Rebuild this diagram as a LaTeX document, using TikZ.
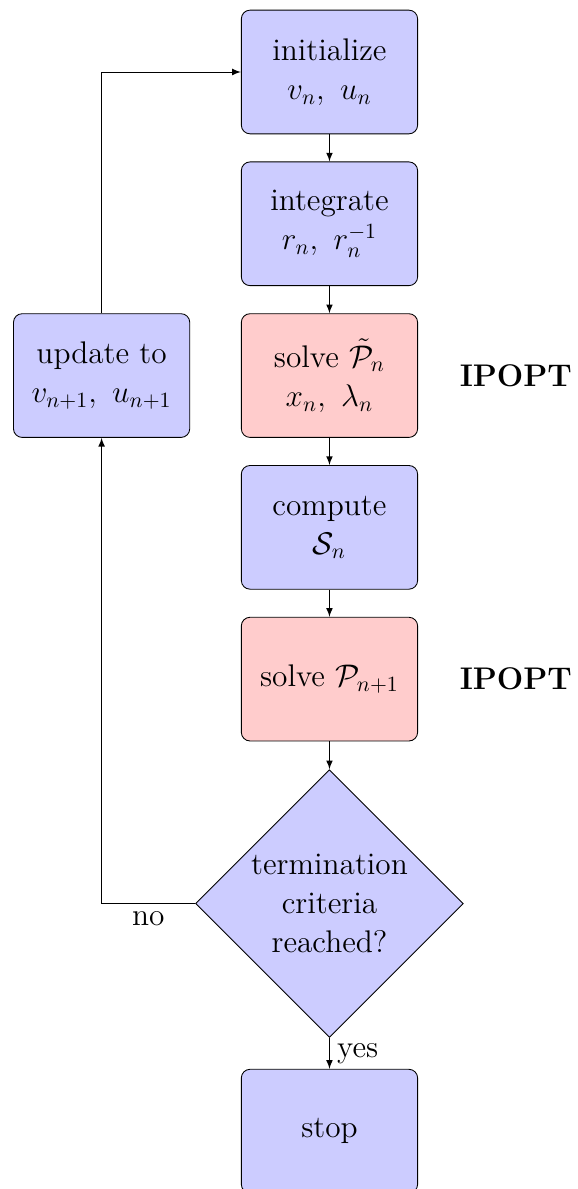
\documentclass[tikz,border=0pt]{standalone}
\usetikzlibrary{positioning,shapes.geometric}
\begin{document}
\begin{tikzpicture}[->,>=latex,node distance=0.44cm,font=\Large,
    block/.style={draw,-,rounded corners,fill=blue!20,align=center,
        minimum width=2.85cm,minimum height=2cm},
    solver/.style={block,fill=red!20},
    decision/.style={draw,-,diamond,aspect=1,fill=blue!20,align=center,
        inner sep=1pt,minimum size=4.33cm},
    tool/.style={font=\Large\bfseries}]

\useasboundingbox (0,0) rectangle (9.345,-19.224);

\node [block] (init) at (5.327,-1.164) {initialize\\$v_n,\ u_n$};
\node [block,below=of init] (integ) {integrate\\$r_n,\ r_n^{-1}$};
\node [solver,below=of integ] (solvet) {solve $\tilde{\mathcal{P}}_n$\\$x_n,\ \lambda_n$};
\node [block,below=of solvet] (comp) {compute\\$\mathcal{S}_n$};
\node [solver,below=of comp] (solvep) {solve $\mathcal{P}_{n+1}$};
\node [decision,below=0.45cm of solvep] (term) {termination\\criteria\\reached?};
\node [block,below=0.5cm of term] (stop) {stop};

\node [block,left=0.82cm of solvet] (upd) {update to\\$v_{n+1},\ u_{n+1}$};

\node [tool,right=0.55cm of solvet] (ipt) {IPOPT};
\node [tool,right=0.55cm of solvep] (ipp) {IPOPT};

\path [draw] (init) -- (integ);
\path [draw] (integ) -- (solvet);
\path [draw] (solvet) -- (comp);
\path [draw] (comp) -- (solvep);
\path [draw] (solvep) -- (term);
\path [draw] (term) -- node [right] {yes} (stop);
\path [draw] (term) -| node [near start,below] {no} (upd);
\path [draw] (upd) |- (init);

\end{tikzpicture}
\end{document}
